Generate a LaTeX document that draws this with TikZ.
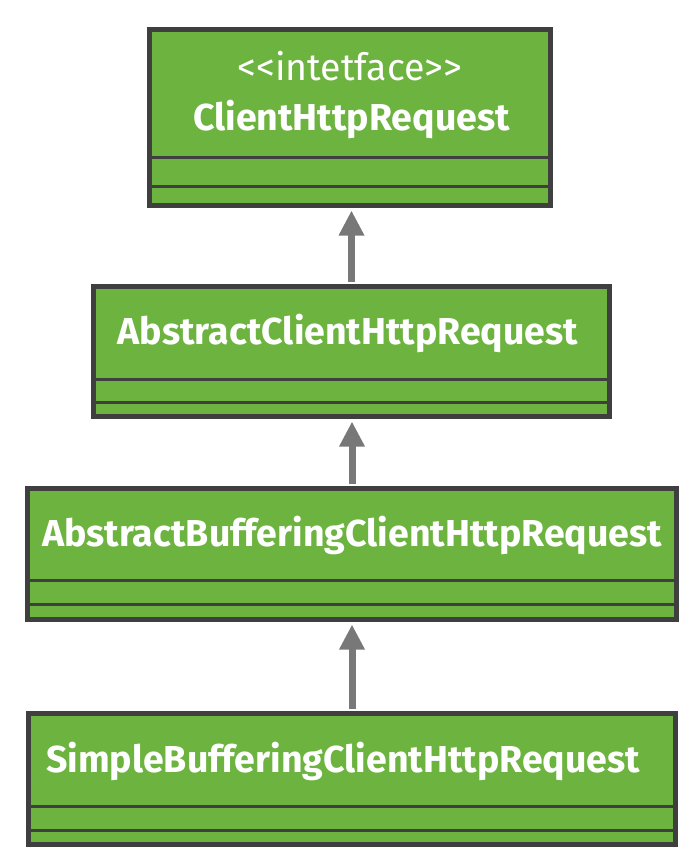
\documentclass[tikz,border=0pt]{standalone}
\usepackage{fontspec}
\setmainfont{Fira Sans}
\usetikzlibrary{arrows.meta}
\definecolor{springgreen}{HTML}{6DB33F}
\definecolor{boxline}{HTML}{3F3F3F}
\definecolor{inhgray}{HTML}{787878}
\tikzset{
	cls/.style={draw=boxline,fill=springgreen,line width=5pt,inner sep=0pt},
	sep/.style={draw=boxline,line width=3pt},
	title/.style={text=white,font=\fontsize{37.5}{42}\selectfont\bfseries,anchor=base,inner sep=0pt},
	inh/.style={draw=inhgray,line width=7pt,-{Triangle[width=24pt,length=25pt]},shorten >=2.5pt,shorten <=2.5pt}
}
\begin{document}
\begin{tikzpicture}[x=1pt,y=-1pt]
	\useasboundingbox (0,0) rectangle (695,857);
	\node[cls,minimum width=401pt,minimum height=176pt] (iface) at (350,117.5) {};
	\node[cls,minimum width=516pt,minimum height=130pt] (abstr) at (351.5,351.5) {};
	\node[cls,minimum width=649pt,minimum height=131pt] (buff) at (352,554) {};
	\node[cls,minimum width=647pt,minimum height=131pt] (simple) at (352,779) {};
	% compartments
	\draw[sep] ([yshift=21.5pt]iface.south west) -- ([yshift=21.5pt]iface.south east)
		([yshift=50.5pt]iface.south west) -- ([yshift=50.5pt]iface.south east);
	\draw[sep] ([yshift=16.5pt]abstr.south west) -- ([yshift=16.5pt]abstr.south east)
		([yshift=39.5pt]abstr.south west) -- ([yshift=39.5pt]abstr.south east);
	\draw[sep] ([yshift=17.5pt]buff.south west) -- ([yshift=17.5pt]buff.south east)
		([yshift=41.5pt]buff.south west) -- ([yshift=41.5pt]buff.south east);
	\draw[sep] ([yshift=16.5pt]simple.south west) -- ([yshift=16.5pt]simple.south east)
		([yshift=40.5pt]simple.south west) -- ([yshift=40.5pt]simple.south east);
	% names
	\node[title,font=\fontsize{37.5}{42}\selectfont] (stereo) at (350,80) {{<}{<}intetface{>}{>}};
	\node[title] (ifacename) at (351.5,130) {ClientHttpRequest};
	\node[title] (abstrname) at (348,344) {AbstractClientHttpRequest};
	\node[title] (buffname) at (352,546) {AbstractBufferingClientHttpRequest};
	\node[title] (simplename) at (343,772) {SimpleBufferingClientHttpRequest};
	% inheritance
	\draw[inh] (abstr.north) -- (abstr.north |- iface.south);
	\draw[inh] (buff.north) -- (buff.north |- abstr.south);
	\draw[inh] (simple.north) -- (simple.north |- buff.south);
\end{tikzpicture}
\end{document}
